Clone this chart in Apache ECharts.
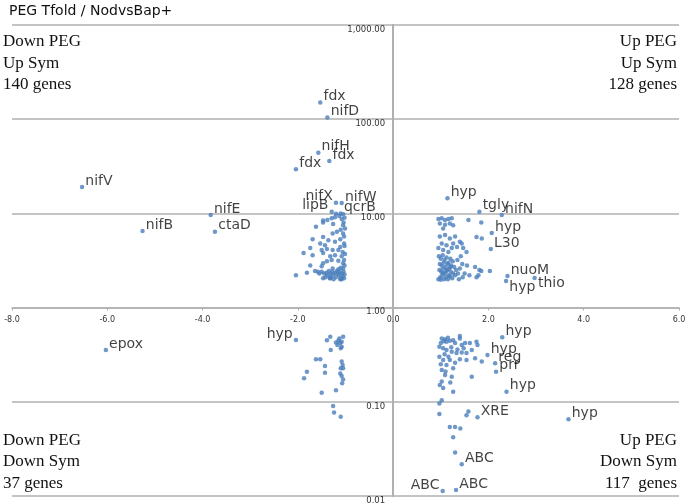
<!DOCTYPE html>
<html><head><meta charset="utf-8">
<script src="https://cdn.jsdelivr.net/npm/echarts/dist/echarts.min.js"></script>
<style>html,body{margin:0;padding:0;background:#fff}#c{width:685px;height:503px}</style>
</head><body><div id="c"></div>
<script>
// ---------------- DATA ----------------
const chartTitle = 'PEG Tfold / NodvsBap+';
const xMin = -8, xMax = 6, xStep = 2;
const yMin = 0.01, yMax = 1000;
const quadrantTexts = [
  'Down PEG\nUp Sym\n140 genes',
  'Up PEG\nUp Sym\n128 genes',
  'Down PEG\nDown Sym\n37 genes',
  'Up PEG\nDown Sym\n117  genes'
];

// labelled genes
const geneNames = ['nifV','nifB','nifE','ctaD','fdx','nifD','nifH','fdx','fdx','nifX','nifW','lipB','qcrB',
  'hyp','tgly','nifN','hyp','L30','nuoM','hyp','thio',
  'epox','hyp',
  'hyp','hyp','reg','prr','hyp','XRE','hyp','ABC','ABC','ABC'];
const geneX = [-6.53,-5.26,-3.83,-3.74,-1.53,-1.38,-1.57,-1.34,-2.04,-1.20,-1.08,-1.29,-1.10,
  1.14,1.81,2.28,2.07,2.05,2.40,2.37,2.97,
  -6.03,-2.04,
  2.29,1.98,2.14,2.16,2.38,1.77,3.68,1.44,1.32,1.04];
const geneY = [19.1,6.5,9.6,6.4,150,104,44,36,29.4,13,12.9,10.4,10.0,
  14.5,10.4,9.6,6.2,4.2,2.16,1.92,2.06,
  0.355,0.453,
  0.484,0.314,0.256,0.209,0.128,0.0685,0.0652,0.0217,0.0116,0.0113];

// unlabelled genes, per quadrant
const upLeft = [[-1.47,8.4],[-1.38,8.5],[-1.29,8.9],[-1.22,9.1],[-1.13,9.4],[-1.08,8.7],[-1.05,7.5],[-1.26,7.7],
  [-1.62,7.2],[-1.47,8.0],[-1.10,6.7],[-1.18,6.4],[-1.27,6.1],[-1.05,6.1],[-1.69,5.3],[-1.47,5.6],[-1.36,5.2],
  [-1.22,5.0],[-1.11,5.3],[-1.03,4.8],[-1.53,4.8],[-1.43,4.6],[-1.11,4.4],[-1.74,4.3],[-1.50,4.1],[-1.39,4.2],
  [-1.27,4.1],[-1.15,4.1],[-1.06,3.9],[-1.88,3.8],[-1.69,3.6],[-1.47,3.8],[-1.32,3.5],[-1.22,3.6],[-1.08,3.5],
  [-1.39,3.1],[-1.29,3.2],[-1.15,3.15],[-1.05,2.95],[-1.74,2.8],[-1.47,2.95],[-1.50,2.75],[-2.04,2.2],[-1.81,2.35],
  [-1.64,2.45],[-1.50,2.4],[-1.45,2.3],[-1.40,2.35],[-1.38,2.2],[-1.35,2.45],[-1.32,2.3],[-1.30,2.15],[-1.28,2.4],
  [-1.25,2.25],[-1.22,2.35],[-1.20,2.1],[-1.18,2.45],[-1.16,2.3],[-1.14,2.2],[-1.12,2.4],[-1.10,2.05],[-1.08,2.3],
  [-1.06,2.15],[-1.04,2.4],[-1.02,2.25],[-1.42,2.1],[-1.55,2.3],[-1.58,2.4],[-1.47,2.05],[-1.25,2.0],[-1.33,2.05],
  [-1.15,2.55],[-1.05,2.6],[-1.10,2.65],[-1.27,2.6],[-1.03,2.05],[-1.08,2.0],[-1.11,2.0],[-1.32,2.05],
  [-1.02,9.0],[-1.04,8.0],[-1.01,6.9],[-1.03,5.7],[-1.02,4.5],[-1.01,3.7],[-1.03,3.2],[-1.02,2.8],[-1.20,9.9],[-1.05,9.8]];
const upRight = [[0.95,8.7],[1.02,8.9],[1.09,8.5],[1.16,8.7],[1.23,8.9],[0.98,7.8],[1.09,7.6],[1.19,7.8],[1.26,7.5],
  [1.05,6.9],[1.58,8.5],[1.85,8.0],[1.75,5.6],[1.86,5.4],[1.44,4.8],[1.47,4.3],[1.54,3.9],
  [0.98,5.7],[1.09,5.9],[1.19,5.4],[1.30,5.7],[1.40,5.0],[1.02,4.8],[1.12,4.6],[1.26,4.8],[1.34,4.4],[0.95,4.3],
  [1.05,4.1],[1.16,3.9],[1.23,4.3],[0.96,3.5],[1.00,3.3],[1.04,3.6],[1.08,3.2],[1.12,3.4],[1.16,3.0],[1.20,3.3],
  [1.25,3.1],[0.98,2.9],[1.02,2.8],[1.06,3.0],[1.10,2.7],[1.14,2.9],[1.18,2.6],[1.22,2.8],[1.28,2.7],[0.97,2.5],
  [1.01,2.4],[1.05,2.6],[1.09,2.3],[1.13,2.5],[1.17,2.2],[1.21,2.4],[1.26,2.3],[1.32,2.5],[0.99,2.1],[1.03,2.2],
  [1.07,2.0],[1.11,2.1],[1.15,2.0],[1.19,2.15],[1.24,2.05],[1.30,2.2],[1.36,2.3],[1.40,2.6],[1.45,2.9],[0.95,2.0],
  [1.00,1.98],[1.05,2.35],[1.12,2.45],[1.20,2.7],[1.35,3.2],[1.42,3.5],[1.38,2.0],[1.50,2.3],[1.55,2.8],[1.60,2.2],
  [1.75,2.1],[1.85,2.45],[1.72,2.7],[1.81,2.5],[2.03,2.45],[1.79,2.2],[1.46,2.1]];
const downLeft = [[-1.39,0.45],[-1.32,0.49],[-1.31,0.355],[-1.20,0.425],[-1.17,0.40],[-1.15,0.445],[-1.11,0.42],
  [-1.08,0.385],[-1.05,0.49],[-1.08,0.435],[-1.13,0.47],[-1.10,0.37],[-1.62,0.283],[-1.53,0.283],[-1.43,0.24],
  [-1.43,0.204],[-1.81,0.209],[-1.87,0.178],[-1.50,0.125],[-1.20,0.133],[-1.08,0.267],[-1.06,0.246],[-1.10,0.227],
  [-1.05,0.227],[-1.11,0.20],[-1.08,0.188],[-1.05,0.173],[-1.07,0.157],[-1.26,0.090],[-1.24,0.077],[-1.10,0.0695]];
const downRight = [[1.02,0.47],[1.09,0.46],[1.12,0.435],[1.19,0.445],[1.26,0.45],[1.30,0.42],[1.40,0.47],[1.44,0.40],
  [1.51,0.42],[1.61,0.42],[1.75,0.435],[1.77,0.40],[0.97,0.385],[1.05,0.37],[1.12,0.355],[1.23,0.34],[1.33,0.33],
  [1.44,0.333],[1.54,0.33],[1.65,0.355],[1.72,0.29],[1.86,0.267],[0.97,0.30],[1.05,0.278],[1.19,0.278],[1.40,0.283],
  [1.54,0.278],[1.12,0.246],[1.02,0.218],[1.26,0.227],[1.09,0.192],[1.23,0.185],[1.65,0.185],[1.02,0.164],[0.98,0.151],
  [1.26,0.128],[1.02,0.104],[0.97,0.096],[1.58,0.079],[0.97,0.074],[1.19,0.054],[1.30,0.054],[1.41,0.052],[1.26,0.042],
  [1.30,0.029],[1.00,0.42],[1.06,0.44],[1.15,0.48],[1.22,0.38],[1.35,0.36],[1.48,0.37],[1.08,0.32],[1.16,0.30],
  [1.30,0.26],[1.00,0.25],[1.10,0.21],[1.20,0.16],[1.05,0.14],[1.40,0.5],[1.54,0.072]];

// ---------------- STYLE ----------------
const dotColor = '#4a7ebb';
const lineColor = '#b0b0b0';
const gridBox = {left: 12, right: 6, top: 25, bottom: 7};
const labelOverrides = {
  9: {position: 'left'}, 11: {position: 'left'}, 22: {position: 'left'}, 32: {position: 'left'},
  19: {offset: [0, 6]}, 20: {offset: [0, 5]}
};

const chart = echarts.init(document.getElementById('c'), null, {renderer: 'canvas'});

const labelled = geneNames.map((n, i) => {
  const item = {name: n, value: [geneX[i], geneY[i]]};
  if (labelOverrides[i]) item.label = labelOverrides[i];
  return item;
});

const fmtY = v => Number(v).toLocaleString('en-US', {minimumFractionDigits: 2, maximumFractionDigits: 2});

// axes cross at x = 0 and y = 1: shift each axis from its grid edge to that crossing
const gridW = 685 - gridBox.left - gridBox.right;
const gridH = 503 - gridBox.top - gridBox.bottom;
const yAxisShift = -gridW * (0 - xMin) / (xMax - xMin);
const xAxisShift = -gridH * (Math.log10(1) - Math.log10(yMin)) / (Math.log10(yMax) - Math.log10(yMin));

const qPos = [
  {left: 3, top: 31, align: 'left'},
  {right: 8, top: 31, align: 'right'},
  {left: 3, bottom: 9, align: 'left'},
  {right: 8, bottom: 9, align: 'right'}
];

chart.setOption({
  animation: false,
  backgroundColor: '#fff',
  title: {
    text: chartTitle, left: 9, top: 4, padding: 0,
    textStyle: {fontFamily: 'DejaVu Sans', fontSize: 14, fontWeight: 'normal', color: '#111'}
  },
  grid: Object.assign({containLabel: false, outerBoundsMode: 'none'}, gridBox),
  xAxis: {
    type: 'value', min: xMin, max: xMax, interval: xStep,
    position: 'bottom', offset: xAxisShift,
    axisLine: {onZero: false, lineStyle: {color: lineColor, width: 1.5}},
    axisTick: {show: true, length: 3, lineStyle: {color: lineColor}},
    axisLabel: {formatter: v => v.toFixed(1), fontSize: 8, color: '#333', fontFamily: 'DejaVu Sans', margin: 8},
    splitLine: {show: false}
  },
  yAxis: {
    type: 'log', logBase: 10, min: yMin, max: yMax,
    position: 'left', offset: yAxisShift,
    axisLine: {onZero: false, lineStyle: {color: lineColor, width: 2}},
    axisTick: {show: false},
    axisLabel: {formatter: fmtY, fontSize: 8.5, color: '#333', fontFamily: 'DejaVu Sans', margin: 8, verticalAlign: 'top'},
    splitLine: {show: true, lineStyle: {color: lineColor, width: 1.5}}
  },
  graphic: quadrantTexts.map((t, i) => Object.assign({
    type: 'text', silent: true,
    style: {text: t, font: '17px "Liberation Serif"', fill: '#111', lineHeight: 21.5, textAlign: qPos[i].align}
  }, (({align, ...rest}) => rest)(qPos[i]))),
  series: [
    {type: 'scatter', symbolSize: 4.5, itemStyle: {color: dotColor}, data: upLeft.concat(upRight, downLeft, downRight), silent: true},
    {type: 'scatter', symbolSize: 4.5, itemStyle: {color: dotColor}, data: labelled, silent: true,
      label: {show: true, formatter: '{b}', position: 'right', distance: 1, offset: [0, -6],
        fontFamily: 'DejaVu Sans', fontSize: 14, color: '#111'}}
  ]
});
</script>
</body></html>
